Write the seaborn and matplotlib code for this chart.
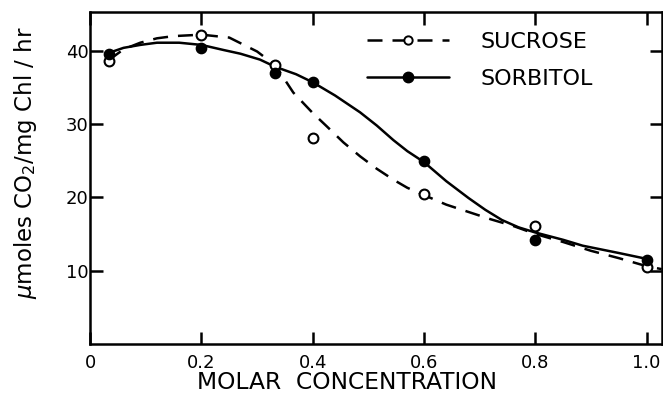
import matplotlib
matplotlib.use("Agg")
import matplotlib.pyplot as plt
from matplotlib.lines import Line2D
import seaborn as sns

# measured points
conc = [0.033, 0.2, 0.333, 0.4, 0.6, 0.8, 1.0]
sucrose = [38.6, 42.1, 38.1, 28.1, 20.4, 16.1, 10.5]
sorbitol = [39.6, 40.4, 36.9, 35.8, 24.9, 14.2, 11.4]

# hand-drawn curves
sucrose_curve_x = [0.033, 0.06, 0.09, 0.12, 0.15, 0.2, 0.25, 0.3, 0.333,
                   0.345, 0.365, 0.4, 0.425, 0.455, 0.485, 0.515, 0.545, 0.57,
                   0.6, 0.64, 0.68, 0.72, 0.76, 0.8, 0.85, 0.9, 0.95, 1.0, 1.027]
sucrose_curve_y = [38.7, 40.2, 41.1, 41.7, 42.0, 42.2, 41.8, 39.9, 38.0,
                   36.6, 34.3, 31.5, 29.7, 27.5, 25.6, 23.9, 22.4, 21.3,
                   20.3, 19.0, 18.0, 17.0, 16.1, 15.0, 13.9, 12.7, 11.7, 10.6, 10.2]
sorbitol_curve_x = [0.033, 0.06, 0.09, 0.12, 0.16, 0.2, 0.24, 0.27, 0.305,
                    0.333, 0.37, 0.4, 0.44, 0.485, 0.515, 0.545, 0.57, 0.6,
                    0.64, 0.68, 0.71, 0.74, 0.77, 0.8, 0.85, 0.885, 0.95, 1.0]
sorbitol_curve_y = [39.7, 40.4, 40.8, 41.1, 41.1, 40.8, 40.1, 39.6, 38.8,
                    37.8, 36.8, 35.7, 33.9, 31.6, 29.8, 27.8, 26.3, 24.8,
                    22.2, 19.9, 18.3, 16.9, 15.9, 15.2, 14.2, 13.4, 12.4, 11.6]

sns.set_style("ticks")
plt.rcParams["font.family"] = ["DejaVu Sans"]
plt.rcParams["text.color"] = "black"
plt.rcParams["axes.labelcolor"] = "black"
plt.rcParams["xtick.color"] = "black"
plt.rcParams["ytick.color"] = "black"

dash = (0, (6, 4))

fig = plt.figure(figsize=(6.63, 3.98), dpi=100)
ax = fig.add_axes([0.136, 0.136, 0.862, 0.834])

sns.lineplot(x=sucrose_curve_x, y=sucrose_curve_y, ax=ax, color="black",
             linewidth=1.8, linestyle=dash, sort=False)
sns.lineplot(x=sorbitol_curve_x, y=sorbitol_curve_y, ax=ax, color="black",
             linewidth=1.8, sort=False)

sns.scatterplot(x=conc, y=sucrose, ax=ax, marker="o", s=50,
                facecolor="white", edgecolor="black", linewidth=1.5, zorder=5)
sns.scatterplot(x=conc, y=sorbitol, ax=ax, marker="o", s=55,
                color="black", edgecolor="black", linewidth=1.0, zorder=5)

ax.set_xlim(0, 1.027)
ax.set_ylim(0, 45.3)
ax.set_xticks([0, 0.2, 0.4, 0.6, 0.8, 1.0])
ax.set_xticklabels(["0", "0.2", "0.4", "0.6", "0.8", "1.0"])
ax.set_yticks([10, 20, 30, 40])
for sp in ax.spines.values():
    sp.set_visible(True)
    sp.set_linewidth(1.8)
    sp.set_color("black")
ax.tick_params(direction="in", length=9, width=1.8, top=True, right=True,
               labelsize=13)
ax.tick_params(axis="y", pad=1)
ax.tick_params(axis="x", pad=7)

ax.set_xlabel("MOLAR  CONCENTRATION", fontsize=16.8)
ax.xaxis.set_label_coords(0.449, -0.082)
ax.set_ylabel(r"$\mu$moles CO$_2$/mg Chl / hr", fontsize=16.5)
ax.yaxis.set_label_coords(-0.09, 0.545)

handles = [
    Line2D([], [], color="black", linestyle=dash, linewidth=1.8,
           marker="o", markersize=6, markerfacecolor="white",
           markeredgecolor="black", markeredgewidth=1.4),
    Line2D([], [], color="black", linewidth=1.8, marker="o", markersize=7.5,
           markerfacecolor="black"),
]
ax.legend(handles, ["SUCROSE", "SORBITOL"], loc="upper left",
          bbox_to_anchor=(0.449, 1.0), frameon=False, fontsize=16,
          handlelength=3.7, handletextpad=1.4, labelspacing=0.75)

fig.savefig("out.png", dpi=100)
